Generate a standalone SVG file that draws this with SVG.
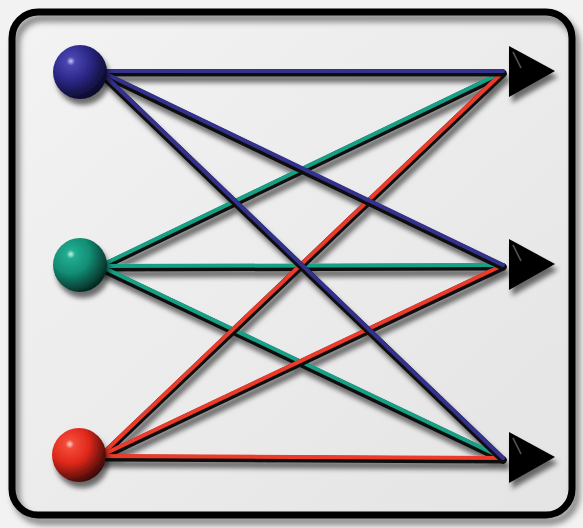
<svg xmlns="http://www.w3.org/2000/svg" width="583" height="528" viewBox="0 0 583 528">
<style>
.dark{stroke:#111;stroke-width:7;stroke-linecap:round;fill:none}
.blue{stroke:#34308e;stroke-width:4;stroke-linecap:round;fill:none}
.teal{stroke:#17a086;stroke-width:4;stroke-linecap:round;fill:none}
.red{stroke:#ec3b2a;stroke-width:4;stroke-linecap:round;fill:none}
.arrow{fill:#050505}
</style>
<defs>
<linearGradient id="bg" x1="0" y1="0" x2="1" y2="1">
<stop offset="0" stop-color="#f3f3f3"/>
<stop offset="1" stop-color="#e4e4e4"/>
</linearGradient>
<radialGradient id="gBlue" cx="0.33" cy="0.3" r="0.8">
<stop offset="0" stop-color="#c8c6f4"/>
<stop offset="0.1" stop-color="#4a45b0"/>
<stop offset="0.45" stop-color="#2c2888"/>
<stop offset="1" stop-color="#050418"/>
</radialGradient>
<radialGradient id="gTeal" cx="0.33" cy="0.3" r="0.8">
<stop offset="0" stop-color="#c8f4e8"/>
<stop offset="0.1" stop-color="#22ac90"/>
<stop offset="0.45" stop-color="#128c74"/>
<stop offset="1" stop-color="#021814"/>
</radialGradient>
<radialGradient id="gRed" cx="0.33" cy="0.3" r="0.8">
<stop offset="0" stop-color="#ffd8d0"/>
<stop offset="0.1" stop-color="#f44a38"/>
<stop offset="0.45" stop-color="#de281a"/>
<stop offset="1" stop-color="#200303"/>
</radialGradient>
<filter id="sh" x="-20%" y="-20%" width="140%" height="140%">
<feGaussianBlur in="SourceAlpha" stdDeviation="2.5"/>
<feOffset dx="3" dy="6" result="b"/>
<feFlood flood-color="#000" flood-opacity="0.55"/>
<feComposite in2="b" operator="in"/>
<feMerge><feMergeNode/><feMergeNode in="SourceGraphic"/></feMerge>
</filter>
<filter id="inner" x="-5%" y="-5%" width="110%" height="110%">
<feGaussianBlur in="SourceAlpha" stdDeviation="3"/>
<feOffset dx="4" dy="6" result="b"/>
<feFlood flood-color="#000" flood-opacity="0.5"/>
<feComposite in2="b" operator="in"/>
<feMerge><feMergeNode/><feMergeNode in="SourceGraphic"/></feMerge>
</filter>
</defs>
<rect width="583" height="528" fill="#f2f2f2"/>
<g id="frame">
<rect x="12" y="12" width="560" height="503" rx="26" fill="url(#bg)"/>
<rect x="12" y="12" width="560" height="503" rx="26" fill="none" stroke="#000" stroke-width="7" filter="url(#inner)"/>
</g>
<g id="connectors" filter="url(#sh)">
<g>
<line class="dark" x1="100" y1="268" x2="503" y2="74"/>
<line class="teal" x1="100" y1="266" x2="503" y2="72"/>
<line class="dark" x1="100" y1="268" x2="503" y2="267"/>
<line class="teal" x1="100" y1="266" x2="503" y2="265"/>
<line class="dark" x1="100" y1="268" x2="503" y2="460"/>
<line class="teal" x1="100" y1="266" x2="503" y2="458"/>
</g>
<g>
<line class="dark" x1="100" y1="458" x2="503" y2="74"/>
<line class="red" x1="100" y1="456" x2="503" y2="72"/>
<line class="dark" x1="100" y1="458" x2="503" y2="267"/>
<line class="red" x1="100" y1="456" x2="503" y2="265"/>
<line class="dark" x1="100" y1="458" x2="503" y2="460"/>
<line class="red" x1="100" y1="456" x2="503" y2="458"/>
</g>
<g>
<line class="dark" x1="100" y1="73" x2="503" y2="73"/>
<line class="blue" x1="100" y1="71" x2="503" y2="71"/>
<line class="dark" x1="100" y1="73" x2="503" y2="267"/>
<line class="blue" x1="100" y1="71" x2="503" y2="265"/>
<line class="dark" x1="100" y1="73" x2="503" y2="460"/>
<line class="blue" x1="100" y1="71" x2="503" y2="458"/>
</g>
</g>
<g id="src-blue" filter="url(#sh)"><circle cx="80" cy="72" r="27" fill="url(#gBlue)"/></g>
<g id="src-teal" filter="url(#sh)"><circle cx="80" cy="265" r="27" fill="url(#gTeal)"/></g>
<g id="src-red" filter="url(#sh)"><circle cx="79" cy="455" r="27" fill="url(#gRed)"/></g>
<g id="out-top" filter="url(#sh)"><polygon class="arrow" points="509,46 509,97 555,71"/><path d="M513,52 L521,68" stroke="#555" stroke-width="1.5" fill="none"/></g>
<g id="out-mid" filter="url(#sh)"><polygon class="arrow" points="509,239 509,290 555,264"/><path d="M513,245 L521,261" stroke="#555" stroke-width="1.5" fill="none"/></g>
<g id="out-bot" filter="url(#sh)"><polygon class="arrow" points="509,432 509,483 555,457"/><path d="M513,438 L521,454" stroke="#555" stroke-width="1.5" fill="none"/></g>
</svg>
